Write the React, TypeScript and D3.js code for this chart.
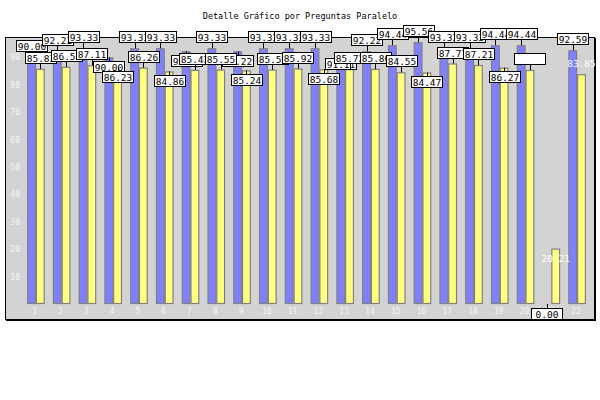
import React, { useEffect, useRef } from 'react';
import * as d3 from 'd3';

const chartTitle = 'Detalle Gráfico por Preguntas Paralelo';
const categories = ['1', '2', '3', '4', '5', '6', '7', '8', '9', '10', '11', '12', '13', '14', '15', '16', '17', '18', '19', '20', '21', '22'];
const blueValues = [90.0, 92.22, 93.33, 90.0, 93.33, 93.33, 92.22, 93.33, 92.22, 93.33, 93.33, 93.33, 91.11, 92.22, 94.44, 95.56, 93.33, 93.33, 94.44, 94.44, 0.0, 92.59];
const yellowValues = [85.83, 86.57, 87.11, 86.23, 86.26, 84.86, 85.43, 85.55, 85.24, 85.53, 85.92, 85.68, 85.72, 85.8, 84.55, 84.47, 87.77, 87.21, 86.27, 85.4, 20.21, 83.85];
const yTicks = [10, 20, 30, 40, 50, 60, 70, 80, 90];

// which value boxes got pushed under the bar top in the original (index into categories)
const blueLabelBelow = [3, 6, 8, 12, 20];
const yellowLabelBelow = [3, 5, 8, 11, 15, 18, 20];
// the original messes up the last yellow labels: an empty box, then bare white text
const yellowLabelStyle = [
  'box', 'box', 'box', 'box', 'box', 'box', 'box', 'box', 'box', 'box', 'box',
  'box', 'box', 'box', 'box', 'box', 'box', 'box', 'box', 'empty', 'plain', 'plain',
];

const WIDTH = 600;
const HEIGHT = 400;
const MONO = '"DejaVu Sans Mono", "Liberation Mono", monospace';

const App: React.FC = () => {
  const svgRef = useRef<SVGSVGElement | null>(null);

  useEffect(() => {
    if (!svgRef.current) return;
    const svg = d3.select(svgRef.current);
    svg.selectAll('*').remove();

    const x = d3.scaleBand<string>()
      .domain(categories)
      .range([23, 590])
      .paddingInner(0.32)
      .paddingOuter(0.16);
    const xs = d3.scaleBand<string>().domain(['blue', 'yellow']).range([0, x.bandwidth()]);
    const y = d3.scaleLinear().domain([0, 100]).range([304, 30]);

    // title
    svg.append('text')
      .attr('x', WIDTH / 2)
      .attr('y', 19)
      .attr('text-anchor', 'middle')
      .style('font-family', MONO)
      .style('font-size', '8.5px')
      .style('fill', '#000')
      .text(chartTitle);

    // plot frame
    svg.append('rect')
      .attr('x', 5.5).attr('y', 37.5)
      .attr('width', 589).attr('height', 282)
      .attr('fill', '#d3d3d3')
      .attr('stroke', '#000');
    svg.append('path')
      .attr('d', 'M595.5,38V321M6,320.5H596')
      .attr('stroke', '#000')
      .attr('fill', 'none');

    const series = [
      { key: 'blue', values: blueValues, fill: '#8080ff' },
      { key: 'yellow', values: yellowValues, fill: '#ffff80' },
    ];

    // bars
    series.forEach(s => {
      svg.append('g').selectAll('rect')
        .data(s.values)
        .enter().append('rect')
        .attr('x', (_, i) => (x(categories[i]) ?? 0) + (xs(s.key) ?? 0) + 0.5)
        .attr('y', d => y(d) + 0.5)
        .attr('width', xs.bandwidth() - 1)
        .attr('height', d => Math.max(0, y(0) - y(d) - 1))
        .attr('fill', s.fill)
        .attr('stroke', '#808080')
        .attr('stroke-width', 1.2);
    });

    // category labels
    svg.append('g').selectAll('text')
      .data(categories)
      .enter().append('text')
      .attr('x', d => (x(d) ?? 0) + x.bandwidth() / 2 - 1)
      .attr('y', 314)
      .attr('text-anchor', 'middle')
      .style('font-family', MONO)
      .style('font-size', '8px')
      .style('fill', '#f6f6f6')
      .text(d => d);

    // value axis labels, no grid in the original
    svg.append('g').selectAll('text')
      .data(yTicks)
      .enter().append('text')
      .attr('x', 20)
      .attr('y', d => y(d) + 3)
      .attr('text-anchor', 'end')
      .style('font-family', MONO)
      .style('font-size', '8px')
      .style('fill', '#f6f6f6')
      .text(d => d);

    // value boxes with leader lines, blue first then yellow (yellow ends up on top)
    const boxW = 31;
    const boxH = 11;
    series.forEach(s => {
      const below = s.key === 'blue' ? blueLabelBelow : yellowLabelBelow;
      const g = svg.append('g');
      s.values.forEach((v, i) => {
        const style = s.key === 'blue' ? 'box' : yellowLabelStyle[i];
        const cx = (x(categories[i]) ?? 0) + (xs(s.key) ?? 0) + xs.bandwidth() / 2;
        const top = y(v);
        const isBelow = below.includes(i);
        const boxTop = isBelow ? top + 3.5 : top - 6 - boxH;
        const bx = Math.round(cx - boxW / 2) + 0.5;
        const by = Math.round(boxTop) + 0.5;

        if (style === 'plain') {
          g.append('text')
            .attr('x', cx)
            .attr('y', by + boxH / 2 + 3.5)
            .attr('text-anchor', 'middle')
            .style('font-family', MONO)
            .style('font-size', '9.5px')
            .style('fill', '#ffffff')
            .text(v.toFixed(2));
          return;
        }

        const lx = Math.round(cx) + 0.5;
        g.append('line')
          .attr('x1', lx).attr('x2', lx)
          .attr('y1', isBelow ? top : by + boxH)
          .attr('y2', isBelow ? by : top)
          .attr('stroke', '#000');
        g.append('rect')
          .attr('x', bx).attr('y', by)
          .attr('width', boxW).attr('height', boxH)
          .attr('fill', '#fff')
          .attr('stroke', '#000');
        if (style === 'box') {
          g.append('text')
            .attr('x', bx + boxW / 2)
            .attr('y', by + boxH / 2 + 3.5)
            .attr('text-anchor', 'middle')
            .style('font-family', MONO)
            .style('font-size', '9.5px')
            .style('fill', '#000')
            .text(v.toFixed(2));
        }
      });
    });
  }, []);

  return (
    <div style={{ position: 'absolute', left: 0, top: 0, background: '#fff' }}>
      <svg ref={svgRef} width={WIDTH} height={HEIGHT} style={{ display: 'block' }} />
    </div>
  );
};

export default App;
